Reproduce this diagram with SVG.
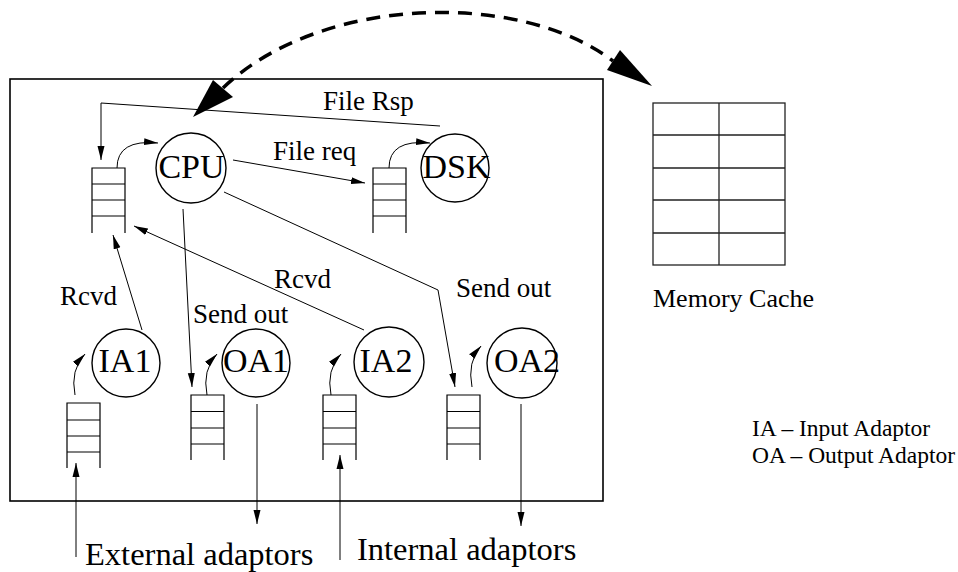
<svg xmlns="http://www.w3.org/2000/svg" width="958" height="572" viewBox="0 0 958 572">
  <style>
    .txt { font-family: "Liberation Serif", "Times New Roman", serif; fill: #000; }
    .node-label { font-size: 34px; text-anchor: middle; }
    .lbl { font-size: 27px; }
    .big { font-size: 32.5px; }
    .legend { font-size: 23.5px; }
    .circ { fill: #fff; stroke: #000; stroke-width: 1.4; }
    .q { fill: none; stroke: #000; stroke-width: 1.2; }
    .edge { fill: none; stroke: #000; stroke-width: 1; marker-end: url(#arr); }
    .grid { fill: none; stroke: #222; stroke-width: 1.3; }
  </style>
  <defs>
    <marker id="arr" markerUnits="userSpaceOnUse" markerWidth="14" markerHeight="8" refX="14" refY="4" orient="auto">
      <path d="M0,0.5 L14,4 L0,7.5 z" fill="#000"/>
    </marker>
  </defs>

  <rect width="958" height="572" fill="#fff"/>

  <!-- server box -->
  <rect id="server" x="10" y="79" width="593" height="422" fill="none" stroke="#000" stroke-width="1.6"/>

  <!-- memory cache table -->
  <g id="cache">
    <rect class="grid" x="653" y="103" width="132" height="162"/>
    <path class="grid" d="M719,103 V265 M653,135 H785 M653,168 H785 M653,200 H785 M653,233 H785"/>
    <text class="txt" x="653" y="307" font-size="26">Memory Cache</text>
  </g>

  <!-- queues -->
  <g id="q-cpu"><path class="q" d="M92,233 V168 H125 V233 M92,184 H125 M92,200 H125 M92,216 H125"/></g>
  <g id="q-dsk"><path class="q" d="M373,233 V168 H406 V233 M373,184 H406 M373,200 H406 M373,216 H406"/></g>
  <g id="q-ia1"><path class="q" d="M67,468 V403 H100 V468 M67,420 H100 M67,436 H100 M67,452 H100"/></g>
  <g id="q-oa1"><path class="q" d="M191,460 V395 H224 V460 M191,411.5 H224 M191,428 H224 M191,444 H224"/></g>
  <g id="q-ia2"><path class="q" d="M323,460 V395 H356 V460 M323,411.5 H356 M323,428 H356 M323,444 H356"/></g>
  <g id="q-oa2"><path class="q" d="M447,460 V395 H480 V460 M447,411.5 H480 M447,428 H480 M447,444 H480"/></g>

  <!-- nodes -->
  <g id="cpu"><circle class="circ" cx="191" cy="168" r="35"/><text class="txt node-label" x="191.5" y="178">CPU</text></g>
  <g id="dsk"><circle class="circ" cx="455" cy="168" r="34"/><text class="txt node-label" x="456.5" y="178">DSK</text></g>
  <g id="ia1"><circle class="circ" cx="126" cy="363" r="34"/><text class="txt node-label" x="125" y="372">IA1</text></g>
  <g id="oa1"><circle class="circ" cx="256" cy="363" r="34"/><text class="txt node-label" x="256" y="372">OA1</text></g>
  <g id="ia2"><circle class="circ" cx="389" cy="362" r="35"/><text class="txt node-label" x="386" y="372">IA2</text></g>
  <g id="oa2"><circle class="circ" cx="522" cy="363" r="35"/><text class="txt node-label" x="527" y="372">OA2</text></g>

  <!-- connectors -->
  <g id="connectors">
    <path class="edge" d="M440,126 L101,103 L101,160"/>
    <path class="edge" d="M117,168 Q117,139 158,143"/>
    <path class="edge" d="M389,168 Q389,139 430,143"/>
    <path class="edge" d="M233,160 L365,183"/>
    <path class="edge" d="M224,192 L438,290 L455,387"/>
    <path class="edge" d="M183,209 L192,387"/>
    <path class="edge" d="M142,330 L113,235"/>
    <path class="edge" d="M364,330 L134,226"/>
    <path class="edge" d="M75,395 Q70,370 85,354"/>
    <path class="edge" d="M207,395 Q202,370 217,354"/>
    <path class="edge" d="M331,395 Q326,370 341,354"/>
    <path class="edge" d="M472,387 Q467,362 481,346"/>
    <path class="edge" d="M257,404 L257,524"/>
    <path class="edge" d="M521,404 L521,526"/>
    <path class="edge" d="M76,557 L76,463"/>
    <path class="edge" d="M340,560 L340,455"/>
    <!-- server to cache exchange -->
    <path d="M223,88 C320,-5 520,-10 613,61" fill="none" stroke="#000" stroke-width="3.5" stroke-dasharray="14 9"/>
    <polygon points="193,117 213,80 233,97" fill="#000"/>
    <polygon points="652,86 620,50 607,70" fill="#000"/>
  </g>

  <!-- edge labels -->
  <text class="txt lbl" x="323" y="110">File Rsp</text>
  <text class="txt lbl" x="273" y="160">File req</text>
  <text class="txt lbl" x="60" y="305">Rcvd</text>
  <text class="txt lbl" x="274" y="288">Rcvd</text>
  <text class="txt lbl" x="193" y="323">Send out</text>
  <text class="txt lbl" x="456" y="297">Send out</text>

  <!-- bottom captions and legend -->
  <text class="txt big" x="85" y="565">External adaptors</text>
  <text class="txt big" x="357" y="560">Internal adaptors</text>
  <text class="txt legend" x="752" y="436">IA – Input Adaptor</text>
  <text class="txt legend" x="752" y="463">OA – Output Adaptor</text>
</svg>
